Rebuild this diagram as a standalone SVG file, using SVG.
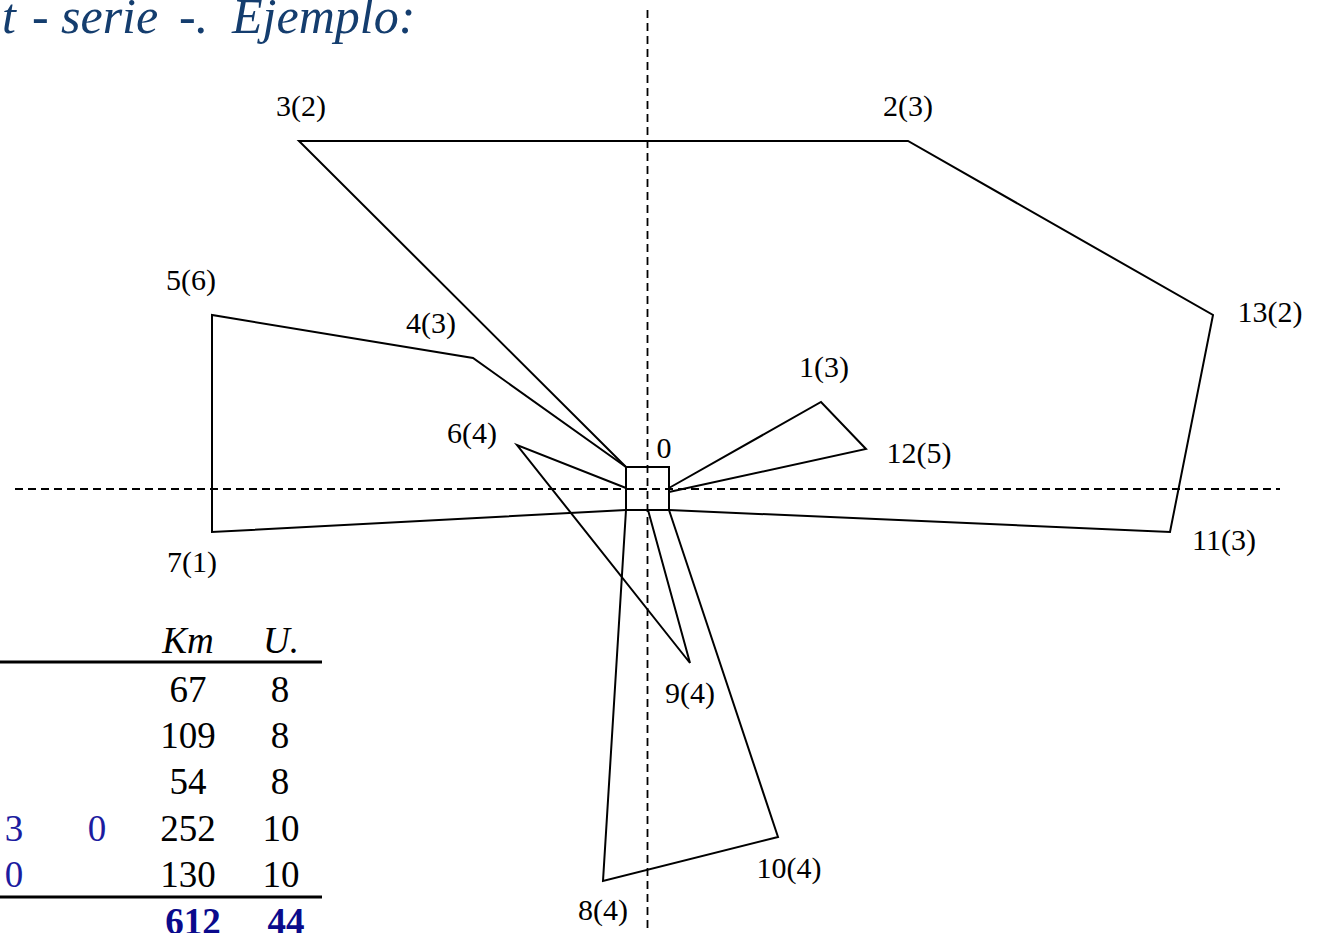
<svg xmlns="http://www.w3.org/2000/svg" width="1323" height="933" viewBox="0 0 1323 933">
<style>
.bg{fill:#ffffff}
.route{fill:none;stroke:#000;stroke-width:2;stroke-linejoin:miter}
.axis{fill:none;stroke:#000;stroke-width:1.8;stroke-dasharray:8 5}
.lbl{font-family:'Liberation Serif','DejaVu Serif',serif;font-size:30px;fill:#000;text-anchor:middle}
.title{font-family:'Liberation Serif','DejaVu Serif',serif;font-size:50px;font-style:italic;fill:#143d6e}
.tb{font-family:'Liberation Serif','DejaVu Serif',serif;font-size:37px;fill:#000;text-anchor:middle}
.it{font-style:italic}
.blue{fill:#1c1ca0}
.bold{font-weight:bold;fill:#0a0a8c}
.rule{stroke:#000;stroke-width:3}
</style>
<rect class="bg" x="0" y="0" width="1323" height="933"/>
<text class="title" y="33"><tspan x="2">t</tspan><tspan x="32">-</tspan><tspan x="61">serie</tspan><tspan x="179">-.</tspan><tspan x="232">Ejemplo:</tspan></text>
<g id="axes">
<line class="axis" x1="15" y1="489" x2="1280" y2="489"/>
<line class="axis" x1="647.5" y1="10" x2="647.5" y2="928"/>
</g>
<g id="connectors">
<polyline class="route" points="626,467 299,141 908,141 1213,315 1170,532 669,510"/>
<polyline class="route" points="626,467 473,358 212,315 212,532 626,510"/>
<polyline class="route" points="626,488 517,445 690,663 648,510"/>
<polyline class="route" points="669,488 821,402 866,449 669,492"/>
<polyline class="route" points="626,510 603,881 778,837 669,510"/>
</g>
<g id="n0"><rect class="route" x="626" y="467" width="43" height="43"/><text class="lbl" x="664" y="458">0</text></g>
<g id="n1"><text class="lbl" x="824" y="377">1(3)</text></g>
<g id="n2"><text class="lbl" x="908" y="116">2(3)</text></g>
<g id="n3"><text class="lbl" x="301" y="116">3(2)</text></g>
<g id="n4"><text class="lbl" x="431" y="333">4(3)</text></g>
<g id="n5"><text class="lbl" x="191" y="290">5(6)</text></g>
<g id="n6"><text class="lbl" x="472" y="443">6(4)</text></g>
<g id="n7"><text class="lbl" x="192" y="572">7(1)</text></g>
<g id="n8"><text class="lbl" x="603" y="920">8(4)</text></g>
<g id="n9"><text class="lbl" x="690" y="703">9(4)</text></g>
<g id="n10"><text class="lbl" x="789" y="878">10(4)</text></g>
<g id="n11"><text class="lbl" x="1224" y="550">11(3)</text></g>
<g id="n12"><text class="lbl" x="919" y="463">12(5)</text></g>
<g id="n13"><text class="lbl" x="1270" y="322">13(2)</text></g>
<g id="table">
<text class="tb it" x="188" y="653">Km</text>
<text class="tb it" x="281" y="653">U.</text>
<line class="rule" x1="0" y1="662" x2="322" y2="662"/>
<text class="tb" x="188" y="702">67</text><text class="tb" x="280" y="702">8</text>
<text class="tb" x="188" y="748">109</text><text class="tb" x="280" y="748">8</text>
<text class="tb" x="188" y="794">54</text><text class="tb" x="280" y="794">8</text>
<text class="tb blue" x="14" y="841">3</text><text class="tb blue" x="97" y="841">0</text>
<text class="tb" x="188" y="841">252</text><text class="tb" x="281" y="841">10</text>
<text class="tb blue" x="14" y="887">0</text>
<text class="tb" x="188" y="887">130</text><text class="tb" x="281" y="887">10</text>
<line class="rule" x1="0" y1="897" x2="322" y2="897"/>
<text class="tb bold" x="193" y="934">612</text><text class="tb bold" x="286" y="934">44</text>
</g>
</svg>
